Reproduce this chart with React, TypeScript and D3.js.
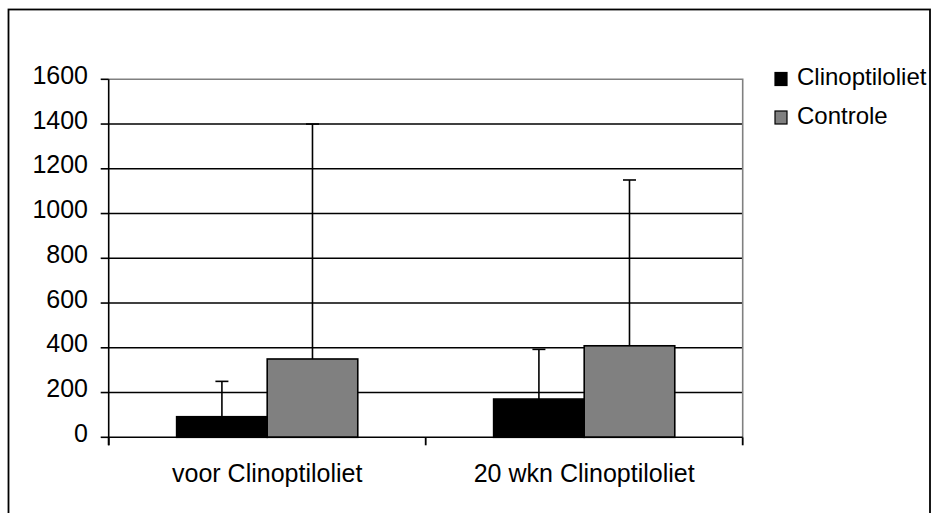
import { useEffect, useRef } from "react"
import * as d3 from "d3"

// Chart data
const categories = ["voor Clinoptiloliet", "20 wkn Clinoptiloliet"]
const series = ["Clinoptiloliet", "Controle"]
const seriesColors = ["#000000", "#808080"]
const clinoValues = [92, 171]
const clinoErrors = [158, 222] // + error only
const controleValues = [350, 409]
const controleErrors = [1050, 741]
const yTicks = [0, 200, 400, 600, 800, 1000, 1200, 1400, 1600]

const App = () => {
  const svgRef = useRef<SVGSVGElement>(null)

  useEffect(() => {
    document.body.style.margin = "0"
    if (!svgRef.current) return
    const svg = d3.select(svgRef.current)
    svg.selectAll("*").remove()

    const width = 939
    const height = 513
    const plot = { left: 108.7, right: 742.7, top: 79.3, bottom: 437.3 }
    const font = "'Liberation Sans', Arial, Helvetica, sans-serif"
    const axisFont = 25
    const legendFont = 24
    const lw = 1.6

    // outer chart frame (bottom edge falls outside the picture)
    svg
      .append("rect")
      .attr("x", 8.5)
      .attr("y", 9.5)
      .attr("width", 921.5)
      .attr("height", 520)
      .attr("fill", "white")
      .attr("stroke", "black")
      .attr("stroke-width", 1.8)

    const y = d3.scaleLinear().domain([0, 1600]).range([plot.bottom, plot.top])
    const x0 = d3.scaleBand().domain(categories).range([plot.left, plot.right]).paddingInner(0).paddingOuter(0)
    const x1 = d3.scaleBand().domain(series).range([0, x0.bandwidth()]).paddingInner(0).paddingOuter(0.75)

    // gridlines
    svg
      .selectAll(".grid")
      .data(yTicks.filter((t) => t > 0 && t < 1600))
      .join("line")
      .attr("x1", plot.left)
      .attr("x2", plot.right)
      .attr("y1", (d) => y(d))
      .attr("y2", (d) => y(d))
      .attr("stroke", "black")
      .attr("stroke-width", lw)

    // plot area border (grey top + right)
    svg
      .append("path")
      .attr("d", `M${plot.left},${y(1600)}H${plot.right}V${plot.bottom}`)
      .attr("fill", "none")
      .attr("stroke", "#808080")
      .attr("stroke-width", lw)

    const rows = [
      { name: series[0], values: clinoValues, errors: clinoErrors, color: seriesColors[0] },
      { name: series[1], values: controleValues, errors: controleErrors, color: seriesColors[1] },
    ]

    // bars
    rows.forEach((row) => {
      categories.forEach((cat, i) => {
        const bx = (x0(cat) ?? 0) + (x1(row.name) ?? 0)
        svg
          .append("rect")
          .attr("x", bx)
          .attr("y", y(row.values[i]))
          .attr("width", x1.bandwidth())
          .attr("height", y(0) - y(row.values[i]))
          .attr("fill", row.color)
          .attr("stroke", "black")
          .attr("stroke-width", lw)
      })
    })

    // error bars (plus direction only)
    rows.forEach((row) => {
      categories.forEach((cat, i) => {
        const cx = (x0(cat) ?? 0) + (x1(row.name) ?? 0) + x1.bandwidth() / 2
        const top = y(row.values[i] + row.errors[i])
        svg
          .append("line")
          .attr("x1", cx)
          .attr("x2", cx)
          .attr("y1", y(row.values[i]))
          .attr("y2", top)
          .attr("stroke", "black")
          .attr("stroke-width", lw)
        svg
          .append("line")
          .attr("x1", cx - 6.5)
          .attr("x2", cx + 6.5)
          .attr("y1", top)
          .attr("y2", top)
          .attr("stroke", "black")
          .attr("stroke-width", lw)
      })
    })

    // y axis
    svg
      .append("line")
      .attr("x1", plot.left)
      .attr("x2", plot.left)
      .attr("y1", plot.top)
      .attr("y2", plot.bottom + 8)
      .attr("stroke", "black")
      .attr("stroke-width", lw)
    svg
      .selectAll(".ytick")
      .data(yTicks)
      .join("line")
      .attr("x1", plot.left - 8)
      .attr("x2", plot.left)
      .attr("y1", (d) => y(d))
      .attr("y2", (d) => y(d))
      .attr("stroke", "black")
      .attr("stroke-width", lw)
    svg
      .selectAll(".ylabel")
      .data(yTicks)
      .join("text")
      .attr("x", 88)
      .attr("y", (d) => y(d) + 4.5)
      .attr("text-anchor", "end")
      .attr("font-family", font)
      .attr("font-size", axisFont)
      .attr("fill", "black")
      .text((d) => d)

    // x axis
    svg
      .append("line")
      .attr("x1", plot.left)
      .attr("x2", plot.right)
      .attr("y1", plot.bottom)
      .attr("y2", plot.bottom)
      .attr("stroke", "black")
      .attr("stroke-width", lw)
    const boundaries = [...categories.map((c) => x0(c) ?? 0), plot.right]
    svg
      .selectAll(".xtick")
      .data(boundaries)
      .join("line")
      .attr("x1", (d) => d)
      .attr("x2", (d) => d)
      .attr("y1", plot.bottom)
      .attr("y2", plot.bottom + 8)
      .attr("stroke", "black")
      .attr("stroke-width", 1.8)
    svg
      .selectAll(".xlabel")
      .data(categories)
      .join("text")
      .attr("x", (d) => (x0(d) ?? 0) + x0.bandwidth() / 2)
      .attr("y", 481.7)
      .attr("text-anchor", "middle")
      .attr("font-family", font)
      .attr("font-size", axisFont)
      .attr("fill", "black")
      .text((d) => d)

    // legend
    const legend = svg
      .selectAll(".legend")
      .data(rows)
      .join("g")
      .attr("transform", (_d, i) => `translate(775, ${85 + i * 38.5})`)
    legend
      .append("rect")
      .attr("x", 0)
      .attr("y", -12.5)
      .attr("width", 12)
      .attr("height", 13)
      .attr("fill", (d) => d.color)
      .attr("stroke", "black")
      .attr("stroke-width", 1.2)
    legend
      .append("text")
      .attr("x", 22)
      .attr("y", 0)
      .attr("font-family", font)
      .attr("font-size", legendFont)
      .attr("fill", "black")
      .text((d) => d.name)

    svg.attr("width", width).attr("height", height)
  }, [])

  return <svg ref={svgRef} width={939} height={513} style={{ display: "block" }} />
}

export default App
